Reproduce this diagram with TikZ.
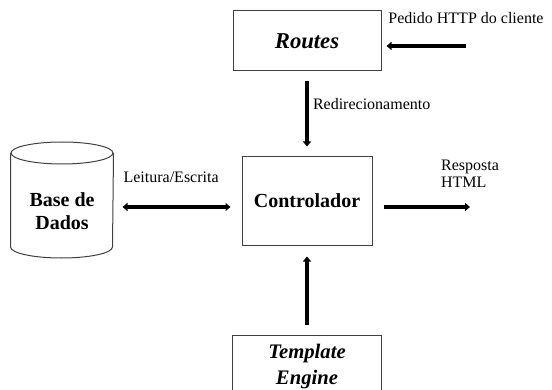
\documentclass[tikz,border=0pt]{standalone}
\usepackage{fontspec}
\setmainfont{Liberation Serif}
\usetikzlibrary{arrows.meta,positioning}
\tikzset{
  % Module box (bold title)
  mbox/.style={rectangle,draw=black!75,line width=0.75pt,
    align=center,font=\fontsize{15}{17}\selectfont\bfseries},
  % Module box with italic title
  ibox/.style={mbox,font=\fontsize{15.5}{19.5}\selectfont\bfseries\itshape},
  % Database outline
  dbline/.style={draw=black!75,line width=0.75pt},
  % Arrows
  arr/.style={-{Triangle[length=3.75pt,width=6pt]},line width=3pt},
  arrb/.style={{Triangle[length=3.75pt,width=6pt]}-{Triangle[length=3.75pt,width=6pt]},line width=3pt},
  lbl/.style={font=\fontsize{12}{13}\selectfont,inner sep=1pt},
}
\begin{document}
\begin{tikzpicture}[x=0.75pt,y=0.75pt]
  \useasboundingbox (0,0) rectangle (552,389);

  % Controller in the middle
  \node[mbox,minimum width=97.5pt,minimum height=66pt] (ctrl) at (307,188) {Controlador};
  \node[ibox,above=63.75pt of ctrl,minimum width=111pt,minimum height=45pt,
    font=\fontsize{17}{19}\selectfont\bfseries\itshape] (routes) {Routes};
  \node[ibox,below=66.75pt of ctrl,minimum width=111.75pt,minimum height=48pt] (tmpl) {Template\\Engine};
  % body of the cylinder (below the top ellipse)
  \node[mbox,draw=none,left=96pt of ctrl,yshift=-7.5pt,
    minimum width=76.5pt,minimum height=69.75pt] (db) {Base de\\Dados};

  % Database cylinder
  \draw[dbline] ([yshift=8.25pt]db.north) ellipse [x radius=38.25pt,y radius=8.25pt];
  \draw[dbline] ([yshift=8.25pt]db.north west) -- ([yshift=8.25pt]db.south west)
    arc[start angle=180,end angle=360,x radius=38.25pt,y radius=8.25pt]
    -- ([yshift=8.25pt]db.north east);

  % Free ends
  \coordinate (req) at (466,343);
  \coordinate (resp) at (470,182);

  \draw[arr,shorten >=3.75pt] (req) node[lbl,above=14.5pt] {Pedido HTTP do cliente}
    -- (routes.east |- req);
  \draw[arr,shorten <=7.5pt,shorten >=7.5pt] (routes) --
    node[lbl,right,xshift=2pt,pos=0.38] {Redirecionamento} (ctrl);
  \draw[arrb,shorten <=6.75pt,shorten >=8.25pt] ([yshift=-4.5pt]ctrl.west -| db.east) --
    node[lbl,above=16pt,pos=0.45] {Leitura/Escrita} ([yshift=-4.5pt]ctrl.west);
  \draw[arr,shorten <=8.25pt] ([yshift=-4.5pt]ctrl.east) -- (resp)
    node[lbl,align=left,above=12pt] {Resposta\\HTML};
  \draw[arr,shorten <=7.5pt,shorten >=8.25pt] (tmpl) -- (ctrl);
\end{tikzpicture}
\end{document}
